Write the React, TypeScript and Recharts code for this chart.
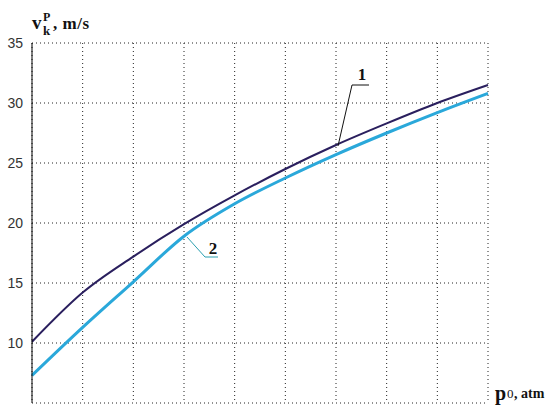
import React from 'react';
import { LineChart, Line, XAxis, YAxis, CartesianGrid } from 'recharts';

const pressure = [0, 1, 2, 3, 4, 5, 6, 7, 8, 9];
const curve1 = [10.1, 14.2, 17.2, 19.9, 22.3, 24.5, 26.5, 28.3, 30.0, 31.5];
const curve2 = [7.3, 11.3, 15.1, 18.9, 21.6, 23.75, 25.7, 27.5, 29.2, 30.8];
const yTicks = [5, 10, 15, 20, 25, 30, 35];

const rows = pressure.map((p, i) => ({ p, c1: curve1[i], c2: curve2[i] }));

const serif = '"Liberation Serif", "DejaVu Serif", serif';
const noTick = () => <g />;

export default function App() {
  return (
    <div style={{ position: 'absolute', left: 0, top: 0, width: 548, height: 405, background: '#fff' }}>
      <LineChart width={548} height={405} data={rows} margin={{ top: 43, right: 60, bottom: 2, left: 0 }}>
        <CartesianGrid stroke="#222" strokeDasharray="1 3" />
        <XAxis dataKey="p" type="number" domain={[0, 9]} ticks={pressure} tick={noTick} height={0}
          axisLine={{ stroke: '#000' }} tickLine={false} interval={0} />
        <XAxis xAxisId="top" orientation="top" dataKey="p" type="number" domain={[0, 9]} ticks={pressure}
          tick={noTick} height={0} axisLine={{ stroke: '#000' }} tickLine={false} />
        <YAxis type="number" domain={[5, 35]} ticks={yTicks} width={32} axisLine={{ stroke: '#000' }}
          tickLine={false} tickMargin={3}
          tick={{ fill: '#333', fontSize: 14, fontFamily: '"Liberation Sans Narrow", "Liberation Sans", sans-serif' }} />
        <YAxis yAxisId="right" orientation="right" type="number" domain={[5, 35]} ticks={yTicks} width={0}
          tick={noTick} axisLine={{ stroke: '#000' }} tickLine={false} />
        <Line dataKey="c2" type="monotone" stroke="#2aa8da" strokeWidth={3} dot={false} isAnimationActive={false} />
        <Line dataKey="c1" type="monotone" stroke="#2a1f5e" strokeWidth={2} dot={false} isAnimationActive={false} />
      </LineChart>
      <svg width={548} height={405} style={{ position: 'absolute', left: 0, top: 0, pointerEvents: 'none' }}>
        <text x={32} y={29} fontFamily={serif} fontWeight="bold" fontSize={19} fill="#111">v</text>
        <text x={43} y={21} fontFamily={serif} fontWeight="bold" fontSize={12} fill="#111">P</text>
        <text x={43} y={35} fontFamily={serif} fontWeight="bold" fontSize={13} fill="#111">k</text>
        <text x={53} y={29} fontFamily={serif} fontWeight="bold" fontSize={17} letterSpacing={0.5} fill="#111">, m/s</text>
        <text x={495} y={400} fontFamily={serif} fontWeight="bold" fontSize={20} fill="#111">p</text>
        <text x={507} y={398} fontFamily={serif} fontSize={13} fill="#111">0</text>
        <text x={514} y={398} fontFamily={serif} fontWeight="bold" fontSize={14} fill="#111">, atm</text>
        <polyline points="338,146 352,85 369,85" fill="none" stroke="#111" strokeWidth={1} />
        <text x={362} y={80} textAnchor="middle" fontFamily={serif} fontWeight="bold" fontSize={17} fill="#111">1</text>
        <polyline points="187,237 205,257 218,257" fill="none" stroke="#2a9fb0" strokeWidth={1} />
        <text x={213} y={254} textAnchor="middle" fontFamily={serif} fontWeight="bold" fontSize={17} fill="#111">2</text>
      </svg>
    </div>
  );
}
